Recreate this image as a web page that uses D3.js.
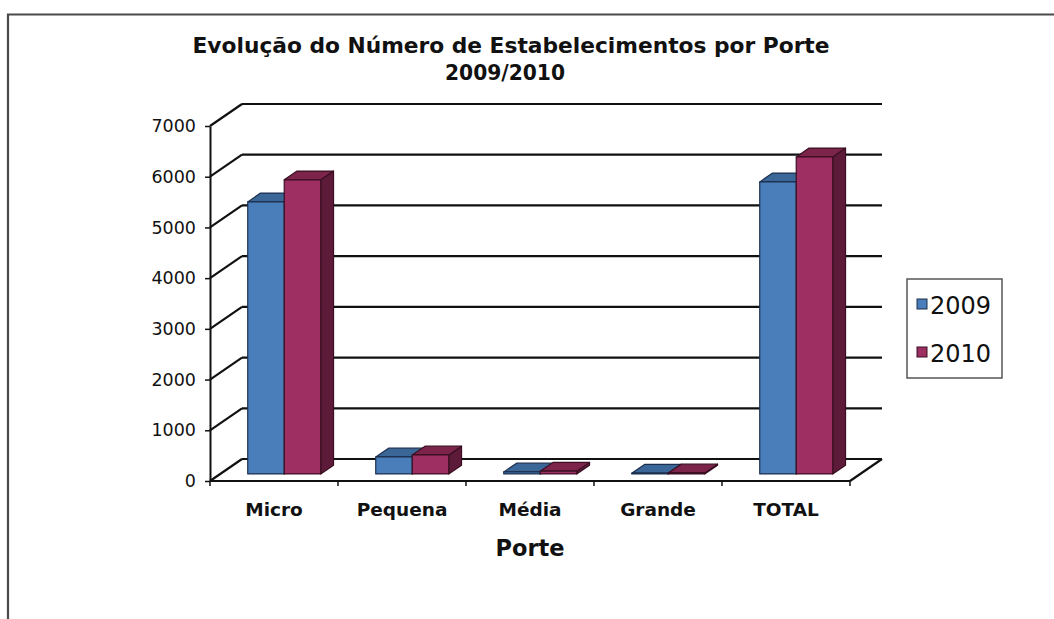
<!DOCTYPE html>
<html><head><meta charset="utf-8">
<script src="https://cdn.jsdelivr.net/npm/d3@7"></script>
<style>html,body{margin:0;padding:0;background:#fff;}svg{display:block;}</style>
</head><body>
<svg id="c" width="1054" height="619"></svg>
<script>
const categories = ["Micro", "Pequena", "Média", "Grande", "TOTAL"];
const seriesNames = ["2009", "2010"];
const values2009 = [5365, 335, 40, 15, 5759];
const values2010 = [5799, 375, 55, 20, 6252];
const yTicks = [0, 1000, 2000, 3000, 4000, 5000, 6000, 7000];
const titleLines = ["Evolução do Número de Estabelecimentos por Porte", "2009/2010"];
const xTitle = "Porte";

const frontColors = {"2009": "#4a7ebb", "2010": "#9e2f62"};
const topColors = {"2009": "#3b6698", "2010": "#7c2449"};
const sideColors = {"2009": "#2f5483", "2010": "#5e1b39"};
const edgeColors = {"2009": "#1c2f4d", "2010": "#3a0f22"};

const svg = d3.select("#c");
const FONT = "DejaVu Sans, Verdana, sans-serif";

// outer frame
svg.append("path").attr("d", "M8,619 L8,14.5 L1054,14.5").attr("fill", "none")
  .attr("stroke", "#4a4a4a").attr("stroke-width", 2.2);

// scales
const x = d3.scaleBand().domain(categories).range([210, 850]).padding(0);
const y = d3.scaleLinear().domain([0, 7000]).range([481, 126]);
const D = {x: 32, y: -22};          // full depth vector
const f0 = 0.32, f1 = 0.40;          // bar front offset / bar depth (fractions)
const groupW = 73;
const xs = d3.scaleBand().domain(seriesNames).range([0, groupW]).padding(0);

// back grid + left wall diagonals
const grid = svg.append("g").attr("stroke", "#111").attr("stroke-width", 2.2).attr("fill", "none");
yTicks.forEach(v => {
  const yf = y(v), yb = y(v) + D.y;
  grid.append("line").attr("x1", x.range()[0] + D.x).attr("x2", x.range()[1] + D.x)
    .attr("y1", yb).attr("y2", yb);
  grid.append("line").attr("x1", x.range()[0]).attr("y1", yf)
    .attr("x2", x.range()[0] + D.x).attr("y2", yb);
});
// floor front edge and right diagonal
grid.append("line").attr("x1", x.range()[0]).attr("x2", x.range()[1]).attr("y1", y(0)).attr("y2", y(0));
grid.append("line").attr("x1", x.range()[1]).attr("y1", y(0))
  .attr("x2", x.range()[1] + D.x).attr("y2", y(0) + D.y);

// bars
const data = [];
categories.forEach((c, i) => {
  data.push({c, s: "2009", v: values2009[i]});
  data.push({c, s: "2010", v: values2010[i]});
});
const bars = svg.append("g");
const ox = f0 * D.x, oy = f0 * D.y, dx = f1 * D.x, dy = f1 * D.y;
data.forEach(d => {
  const x0 = x(d.c) + (x.bandwidth() - groupW) / 2 + xs(d.s) + ox;
  const w = xs.bandwidth();
  const yt = y(d.v) + oy, yb = y(0) + oy;
  const g = bars.append("g").attr("stroke", edgeColors[d.s]).attr("stroke-width", 1.2)
    .attr("stroke-linejoin", "round");
  g.append("polygon").attr("points", [[x0 + w, yt], [x0 + w + dx, yt + dy], [x0 + w + dx, yb + dy], [x0 + w, yb]].join(" "))
    .attr("fill", sideColors[d.s]);
  g.append("polygon").attr("points", [[x0, yt], [x0 + w, yt], [x0 + w + dx, yt + dy], [x0 + dx, yt + dy]].join(" "))
    .attr("fill", topColors[d.s]);
  g.append("rect").attr("x", x0).attr("y", yt).attr("width", w).attr("height", Math.max(0, yb - yt))
    .attr("fill", frontColors[d.s]);
});

// y axis
const yAxis = svg.append("g").attr("transform", "translate(210,0)")
  .call(d3.axisLeft(y).tickValues(yTicks).tickFormat(d3.format("d")).tickSize(5).tickSizeOuter(0).tickPadding(9));
yAxis.select(".domain").attr("stroke", "#111").attr("stroke-width", 2);
yAxis.selectAll(".tick line").attr("stroke", "#111").attr("stroke-width", 1.5);
yAxis.selectAll("text").attr("font-family", FONT).attr("font-size", 17.5).attr("fill", "#111");

// x axis labels
const xAxis = svg.append("g").attr("transform", `translate(0,${y(0)})`)
  .call(d3.axisBottom(x).tickSize(0).tickPadding(22));
xAxis.select(".domain").remove();
xAxis.selectAll("text").attr("font-family", FONT).attr("font-size", 18.5).attr("font-weight", "bold").attr("fill", "#111");
// x tick marks at category boundaries
const bounds = categories.map(c => x(c)).concat([x.range()[1]]);
svg.append("g").selectAll("line").data(bounds).join("line")
  .attr("x1", d => d).attr("x2", d => d).attr("y1", y(0)).attr("y2", y(0) + 5)
  .attr("stroke", "#111").attr("stroke-width", 1.5);

// axis title
svg.append("text").attr("x", 530).attr("y", 556).attr("text-anchor", "middle")
  .attr("font-family", FONT).attr("font-size", 22.5).attr("font-weight", "bold").attr("fill", "#111").text(xTitle);

// chart title
svg.append("text").attr("x", 511).attr("y", 53).attr("text-anchor", "middle")
  .attr("font-family", "Liberation Sans Narrow, DejaVu Sans Condensed, sans-serif").attr("font-size", 22)
  .attr("font-weight", "bold").attr("fill", "#111")
  .attr("textLength", 637).attr("lengthAdjust", "spacingAndGlyphs").text(titleLines[0]);
svg.append("text").attr("x", 505).attr("y", 80).attr("text-anchor", "middle")
  .attr("font-family", "Liberation Sans Narrow, DejaVu Sans Condensed, sans-serif").attr("font-size", 22)
  .attr("font-weight", "bold").attr("fill", "#111")
  .attr("textLength", 120).attr("lengthAdjust", "spacingAndGlyphs").text(titleLines[1]);

// legend
const lg = svg.append("g");
lg.append("rect").attr("x", 907).attr("y", 279).attr("width", 95).attr("height", 99)
  .attr("fill", "#fff").attr("stroke", "#555").attr("stroke-width", 1.5);
seriesNames.forEach((s, i) => {
  const cy = 304 + i * 48;
  lg.append("rect").attr("x", 917).attr("y", cy - 5).attr("width", 10).attr("height", 10)
    .attr("fill", frontColors[s]).attr("stroke", edgeColors[s]).attr("stroke-width", 1);
  lg.append("text").attr("x", 930).attr("y", cy + 10).attr("font-family", FONT).attr("font-size", 24)
    .attr("fill", "#111").text(s);
});
</script>
</body></html>
